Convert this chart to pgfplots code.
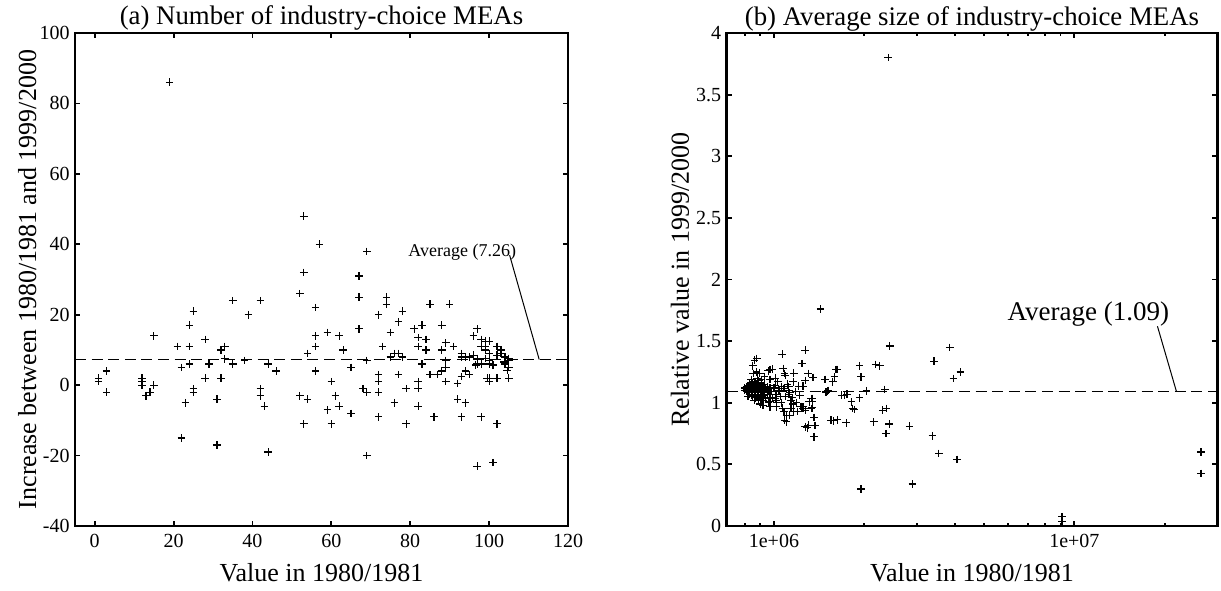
\documentclass[border=0pt]{standalone}
\usepackage{fontspec}
\setmainfont{Liberation Serif}
\usepackage{pgfplots}
\pgfplotsset{compat=1.18}
\pgfplotsset{
  every axis title shift=0pt,
  myax/.style={
    scale only axis, anchor=south west,
    height=246.5pt,
    tick align=inside,
    major tick length=2.6pt, minor tick length=1.6pt,
    every tick/.style={black, line width=0.9pt},
    axis line style={line width=1.4pt},
    /pgf/number format/assume math mode=true,
    tick label style={font=\fontsize{10}{12}\selectfont},
    xticklabel style={anchor=base, yshift=-10.5pt, inner sep=0pt},
    yticklabel style={inner sep=0pt, xshift=-2.5pt},
    title style={font=\fontsize{13.4}{16}\selectfont, at={(0.5,1)}, anchor=base, yshift=4pt, inner sep=0pt},
    label style={font=\fontsize{13}{15}\selectfont},
    xlabel style={at={(axis description cs:0.5,-0.1116)}, anchor=base, inner sep=0pt},
    clip=false,
  },
  pts/.style={only marks, mark=+, mark size=1.9pt, mark options={line width=0.6pt}, black},
  avg/.style={black, line width=0.6pt, dash pattern=on 5.5pt off 2.8pt},
}
\pgfplotstableread{
x y
19 86
53 48
57 40
69 38
53 32
67 31
52 26
67 25
74 25
74 23
35 24
42 24
85 23
90 23
56 22
25 21
78 21
39 20
72 20
77 18
24 17
83 17
88 17
67 16
81 16
97 16
59 15
75 15
15 14
56 14
62 14
96 14
28 13
82 13.5
84 13
98 13
99 12.5
100 12.5
89 12
21 11
24 11
33 11
56 11
73 11
82 11
91 11
98 11
99 11
102 11
32 10
63 10
84 10
88 10
99 10
103 10
54 9
93 9
100 9
103 9
104 8
33 7.5
38 7
69 7
89 7
75 8
76 9
77 9
78 8
93 8
94 8
95 8
96 8.5
97 7.6
99 7.6
100 7
102 8.5
105 7.6
105 7
104 6
105 5
104.6 4.2
103.8 6.6
22 5
24 6
29 6
35 6
44 6
65 5
83 6
89 5
97 6
98 6
96.6 5.7
100 6
101 5.7
46 4
3 4
56 4
72 3
77 3
85 3
87 3
88 4
94 4
95 3
93 2.4
1 2
1 1
12 2
12 1
12 0
15 0
28 2
32 2
60 1
72 1
82 1
89 1
92 0.5
99.5 2
100 2
102 2
100 1
105 2
14 -2
13 -3
3 -2
25 -1
25 -2
23 -5
31 -4
42 -1
42 -3
43 -6
52 -3
54 -4
61 -3
59 -7
62 -6
65 -8
68 -1
69 -2
72 -2
79 -1
82 -1
76 -5
82 -6
92 -4
94 -5
53 -11
60 -11
72 -9
79 -11
86 -9
93 -9
98 -9
102 -11
22 -15
31 -17
44 -19
69 -20
97 -23
101 -22
}\leftdata
\pgfplotstableread{
x y
0.80e6 1.10
0.80e6 1.12
0.81e6 1.09
0.81e6 1.11
0.81e6 1.13
0.82e6 1.08
0.82e6 1.10
0.82e6 1.12
0.82e6 1.14
0.83e6 1.07
0.83e6 1.09
0.83e6 1.11
0.83e6 1.13
0.83e6 1.15
0.84e6 1.06
0.84e6 1.08
0.84e6 1.10
0.84e6 1.12
0.84e6 1.14
0.84e6 1.16
0.85e6 1.05
0.85e6 1.09
0.85e6 1.11
0.85e6 1.13
0.85e6 1.15
0.86e6 1.07
0.86e6 1.10
0.86e6 1.12
0.86e6 1.14
0.86e6 1.17
0.87e6 1.04
0.87e6 1.08
0.87e6 1.11
0.87e6 1.13
0.87e6 1.16
0.88e6 1.06
0.88e6 1.09
0.88e6 1.12
0.88e6 1.15
0.89e6 1.03
0.89e6 1.08
0.89e6 1.10
0.89e6 1.13
0.89e6 1.18
0.90e6 1.05
0.90e6 1.09
0.90e6 1.11
0.90e6 1.14
0.91e6 1.07
0.91e6 1.12
0.91e6 1.16
0.92e6 1.02
0.92e6 1.10
0.92e6 1.13
0.93e6 1.06
0.93e6 1.09
0.93e6 1.15
0.94e6 1.04
0.94e6 1.11
0.95e6 1.08
0.95e6 1.13
0.96e6 1.00
0.96e6 1.10
0.82e6 1.05
0.86e6 1.02
0.88e6 1.20
0.84e6 1.19
0.90e6 0.99
0.853e6 1.237
0.875e6 1.25
0.898e6 1.24
0.957e6 1.259
0.861e6 1.345
0.877e6 1.36
0.85e6 1.30
0.91e6 1.19
0.93e6 1.21
0.91e6 1.02
0.92e6 0.98
0.97e6 1.27
0.97e6 1.19
0.97e6 1.12
0.97e6 1.07
0.97e6 1.035
0.97e6 1.007
0.97e6 0.967
0.99e6 1.272
1.01e6 1.20
1.01e6 1.14
1.01e6 1.07
1.02e6 1.07
1.02e6 1.02
1.01e6 1.035
1.02e6 1.00
1.02e6 0.967
1.066e6 1.394
1.073e6 1.278
1.086e6 1.237
1.09e6 1.22
1.06e6 1.13
1.08e6 1.115
1.12e6 1.10
1.12e6 1.07
1.14e6 1.02
1.07e6 0.955
1.08e6 0.926
1.10e6 0.899
1.10e6 0.845
1.086e6 0.859
1.16e6 0.99
1.16e6 0.926
1.14e6 0.953
1.164e6 1.24
1.16e6 1.17
1.12e6 1.13
1.21e6 1.135
1.25e6 1.135
1.27e6 1.18
1.24e6 1.318
1.27e6 1.426
1.30e6 1.237
1.35e6 1.205
1.34e6 0.959
1.34e6 1.013
1.34e6 1.035
1.27e6 0.94
1.25e6 0.967
1.36e6 0.88
1.37e6 0.816
1.36e6 0.724
1.29e6 0.797
1.27e6 0.805
1.30e6 0.818
1.25e6 0.953
1.33e6 0.953
1.31e6 1.007
1.33e6 1.034
1.13e6 0.899
1.04e6 1.10
1.05e6 1.05
1.06e6 1.00
1.09e6 1.05
1.11e6 1.15
1.13e6 1.08
1.15e6 1.04
1.18e6 1.09
1.19e6 1.00
1.22e6 1.06
1.20e6 0.93
1.23e6 0.97
1.03e6 1.17
1.00e6 1.12
0.99e6 1.04
0.98e6 1.09
1.43e6 1.76
1.48e6 1.189
1.57e6 1.17
1.59e6 1.21
1.61e6 1.27
1.63e6 1.27
1.51e6 1.096
1.49e6 1.088
1.52e6 1.10
1.55e6 0.859
1.58e6 0.853
1.63e6 0.862
1.68e6 1.062
1.72e6 1.062
1.75e6 1.07
1.74e6 0.837
1.81e6 1.007
1.85e6 0.946
1.83e6 0.953
1.93e6 1.30
1.95e6 1.21
2.03e6 1.097
1.93e6 1.04
1.95e6 0.30
2.15e6 0.845
2.18e6 1.31
2.25e6 1.30
2.34e6 1.108
2.30e6 0.94
2.37e6 0.953
2.42e6 0.827
2.36e6 0.75
2.43e6 1.46
2.40e6 3.80
2.83e6 0.81
2.89e6 0.34
3.41e6 1.337
3.37e6 0.732
3.54e6 0.589
3.85e6 1.448
3.96e6 1.197
4.18e6 1.25
4.07e6 0.54
9.1e6 0.075
9.1e6 0.035
26.4e6 0.60
26.4e6 0.427
}\rightdata
\begin{document}
\begin{tikzpicture}
\path[use as bounding box] (0,0) rectangle (610.5pt,295pt);
\begin{axis}[myax,
  at={(37.5pt,32pt)}, width=246.5pt,
  xmin=-5, xmax=120, ymin=-40, ymax=100,
  xtick={0,20,...,120}, ytick={-40,-20,...,100},
  title={(a) Number of industry-choice MEAs},
  xlabel={Value in 1980/1981},
  ylabel={Increase between 1980/1981 and 1999/2000},
  ylabel style={at={(axis description cs:-0.079,0.5)}, anchor=base, inner sep=0pt},
]
\addplot[pts] table[x=x,y=y] {\leftdata};
\addplot[avg] coordinates {(-5,7.26) (120,7.26)};
\addplot[black, line width=0.5pt] coordinates {(105.2,36.9) (112.7,7.26)};
\node[anchor=base, inner sep=0pt, font=\fontsize{9}{11}\selectfont] at (axis cs:93.2,36.45) {Average (7.26)};
\end{axis}
\begin{axis}[myax,
  at={(363.3pt,32pt)}, width=245.3pt,
  xmode=log, log basis x=10,
  xmin=6.96e5, xmax=2.99e7, ymin=0, ymax=4,
  xtick={1e6,1e7}, xticklabels={1e+06,1e+07},
  minor xtick={8e5,9e5,2e6,3e6,4e6,5e6,6e6,7e6,8e6,9e6,2e7},
  ytick={0,0.5,...,4},
  title={(b) Average size of industry-choice MEAs},
  xlabel={Value in 1980/1981},
  ylabel={Relative value in 1999/2000},
  ylabel style={at={(axis description cs:-0.077,0.5)}, anchor=base, inner sep=0pt},
]
\addplot[pts] table[x=x,y=y] {\rightdata};
\addplot[avg] coordinates {(6.96e5,1.09) (2.99e7,1.09)};
\addplot[black, line width=0.5pt] coordinates {(1.891e7,1.621) (2.188e7,1.09)};
\node[anchor=base, inner sep=0pt, font=\fontsize{13.5}{16}\selectfont] at (axis cs:1.113e7,1.669) {Average (1.09)};
\end{axis}
\end{tikzpicture}
\end{document}
